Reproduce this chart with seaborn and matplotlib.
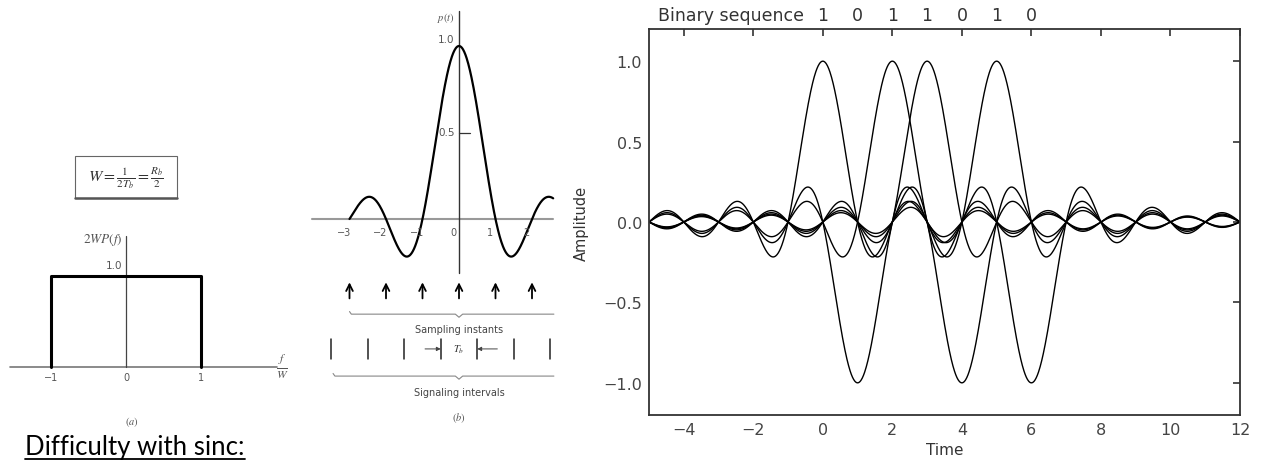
import numpy as np
import pandas as pd
import matplotlib.pyplot as plt
from matplotlib.patches import Rectangle
import matplotlib.transforms as mtransforms
import seaborn as sns

# (a) ideal spectrum 2W P(f) against f/W
spec_f = [-1, -1, 1, 1]
spec_p = [0, 1, 1, 0]
spec_ticks = [-1, 0, 1]

# (b) sinc pulse p(t), sampling instants and signalling interval edges
pulse_start, pulse_end = -3, 2.58
pulse_ticks = [-3, -2, -1, 0, 1, 2]
sampling_instants = [-3, -2, -1, 0, 1, 2]
interval_edges = [-3.5, -2.5, -1.5, -0.5, 0.5, 1.5, 2.5]

# right: binary sequence sent as sinc pulses (polar: 1 -> +1, 0 -> -1)
bits = [1, 0, 1, 1, 0, 1, 0]
bit_times = [0, 1, 2, 3, 4, 5, 6]
time_ticks = [-4, -2, 0, 2, 4, 6, 8, 10, 12]
amp_ticks = [-1.0, -0.5, 0.0, 0.5, 1.0]

sns.set_theme(style='white')
plt.rcParams['font.family'] = ['DejaVu Sans']
plt.rcParams['mathtext.fontset'] = 'stix'

W, H = 1264, 464
fig = plt.figure(figsize=(W / 100, H / 100), dpi=100)


def px_axes(x0, y0, x1, y1):
    # axes placed by pixel box (y measured from the top)
    return fig.add_axes([x0 / W, 1 - y1 / H, (x1 - x0) / W, (y1 - y0) / H])


def px_limits(ax, box, ox, sx, oy, sy):
    # ox/oy: pixel of data zero, sx/sy: pixels per data unit
    x0, y0, x1, y1 = box
    ax.set_xlim((x0 - ox) / sx, (x1 - ox) / sx)
    ax.set_ylim((oy - y1) / sy, (oy - y0) / sy)


grey = '#555555'

# ---------------- (a) ----------------
box_a = (0, 140, 300, 440)
ax_a = px_axes(*box_a)
px_limits(ax_a, box_a, 126, 75, 368, 91)
ax_a.axis('off')
ax_a.plot([-1.55, 2.01], [0, 0], color='#777777', lw=1.2)
ax_a.plot([0, 0], [0, 1.44], color='#444444', lw=0.9)
sns.lineplot(x=spec_f, y=spec_p, ax=ax_a, color='black', lw=2.2,
             sort=False, estimator=None)
for f in spec_ticks:
    ax_a.text(f, -0.11, str(f).replace('-', '\u2212'), ha='center', va='center',
              fontsize=7, color=grey)
ax_a.text(-0.05, 1.12, '1.0', ha='right', va='center', fontsize=7.5, color=grey)
ax_a.text(-0.04, 1.41, r'$2WP(f)$', ha='right', va='center', fontsize=9.5, color=grey)
ax_a.text(2.09, 0.02, r'$\frac{f}{W}$', ha='center', va='center', fontsize=12, color=grey)
ax_a.text(0.08, -0.59, r'$(a)$', ha='center', va='center', fontsize=7.5, color=grey)
ax_a.add_patch(Rectangle((-0.68, 1.86), 1.36, 0.46, facecolor='white',
                         edgecolor='#666666', lw=0.8))
ax_a.plot([-0.68, 0.68], [1.86, 1.86], color='#555555', lw=1.8)
ax_a.text(0, 2.09, r'$W=\frac{1}{2T_b}=\frac{R_b}{2}$', ha='center', va='center',
          fontsize=11.5, color='#333333')

# ---------------- (b) ----------------
box_b = (300, 0, 570, 430)
ax_b = px_axes(*box_b)
px_limits(ax_b, box_b, 459, 36.5, 220, 173)
ax_b.axis('off')
ax_b.plot([-4.03, 2.58], [0, 0], color='#999999', lw=1.5)
ax_b.plot([0, 0], [-0.31, 1.2], color='#333333', lw=1.0)
t_b = np.linspace(pulse_start, pulse_end, 500)
sns.lineplot(x=t_b, y=np.sinc(t_b), ax=ax_b, color='black', lw=1.6)
ax_b.plot([0, 0.3], [0.5, 0.5], color='#333333', lw=0.9)
ax_b.text(-0.12, 0.5, '0.5', ha='right', va='center', fontsize=7.5, color=grey)
ax_b.text(-0.12, 1.04, '1.0', ha='right', va='center', fontsize=7.5, color=grey)
ax_b.text(-0.12, 1.17, r'$p(t)$', ha='right', va='center', fontsize=7.5, color=grey)
for k in pulse_ticks:
    ax_b.text(k - 0.15, -0.075, str(k).replace('-', '\u2212'), ha='center',
              va='center', fontsize=7, color=grey)
for s in sampling_instants:
    ax_b.annotate('', xy=(s, -0.35), xytext=(s, -0.475),
                  arrowprops=dict(arrowstyle='->', color='black', lw=1.3))


def brace(ax, xa, xb, y, tip):
    ax.plot([xa, xa + 0.05, tip - 0.1, tip, tip + 0.1, xb],
            [y + 0.015, y, y, y - 0.018, y, y], color='#888888', lw=0.8)


brace(ax_b, -3.0, 2.6, -0.55, 0)
ax_b.text(0, -0.636, 'Sampling instants', ha='center', va='center', fontsize=7,
          color='#444444')
for e in interval_edges:
    ax_b.plot([e, e], [-0.695, -0.81], color='#222222', lw=1.1)
ax_b.annotate('', xy=(-0.5, -0.751), xytext=(-0.93, -0.751),
              arrowprops=dict(arrowstyle='-|>', color='#444444', lw=0.7,
                              mutation_scale=6, shrinkA=0, shrinkB=0))
ax_b.annotate('', xy=(0.5, -0.751), xytext=(1.05, -0.751),
              arrowprops=dict(arrowstyle='-|>', color='#444444', lw=0.7,
                              mutation_scale=6, shrinkA=0, shrinkB=0))
ax_b.text(0, -0.751, r'$T_b$', ha='center', va='center', fontsize=7.5, color='#333333')
brace(ax_b, -3.45, 2.6, -0.908, 0)
ax_b.text(0, -1.0, 'Signaling intervals', ha='center', va='center', fontsize=7,
          color='#444444')
ax_b.text(0, -1.145, r'$(b)$', ha='center', va='center', fontsize=7.5, color=grey)

# ---------------- right: superposed sinc pulses ----------------
ax_r = px_axes(649, 30, 1240, 416)
t = np.linspace(-5, 12, 1500)
frames = []
for tb, b in zip(bit_times, bits):
    frames.append(pd.DataFrame({'Time': t, 'Amplitude': (2 * b - 1) * np.sinc(t - tb),
                                'pulse': tb}))
pulses = pd.concat(frames, ignore_index=True)
sns.lineplot(data=pulses, x='Time', y='Amplitude', units='pulse', estimator=None,
             color='black', lw=1.0, ax=ax_r)
ax_r.set_xlim(-5, 12)
ax_r.set_ylim(-1.2, 1.2)
ax_r.set_xticks(time_ticks)
ax_r.set_yticks(amp_ticks)
ax_r.set_yticklabels([f'{v:.1f}'.replace('-', '\u2212') for v in amp_ticks])
ax_r.tick_params(direction='in', top=True, right=True, length=5, width=1.2,
                 labelsize=11.5, labelcolor='#444444', pad=5, color='#333333')
for sp in ax_r.spines.values():
    sp.set_color('#333333')
    sp.set_linewidth(1.3)
ax_r.set_xlabel('Time', fontsize=11, color='#333333', labelpad=4)
ax_r.set_ylabel('Amplitude', fontsize=10.5, color='#333333', labelpad=10)

trans = mtransforms.blended_transform_factory(ax_r.transData, ax_r.transAxes)
ax_r.text(0 - 0.55, 1.036, 'Binary sequence', transform=trans, ha='right',
          va='center', fontsize=12.5, color='#333333')
for tb, b in zip(bit_times, bits):
    ax_r.text(tb, 1.036, str(b), transform=trans, ha='center', va='center',
              fontsize=12.5, color='#333333')

# caption underneath
cap = fig.text(25 / W, 1 - 455 / H, 'Difficulty with sinc:', fontsize=18.5,
               family=['Lato', 'DejaVu Sans'], color='black', va='baseline')
fig.canvas.draw()
bb = cap.get_window_extent().transformed(fig.transFigure.inverted())
fig.add_artist(plt.Line2D([bb.x0, bb.x1], [1 - 460 / H, 1 - 460 / H],
                          color='black', lw=1.3, transform=fig.transFigure))

fig.savefig('out.png', dpi=100)
